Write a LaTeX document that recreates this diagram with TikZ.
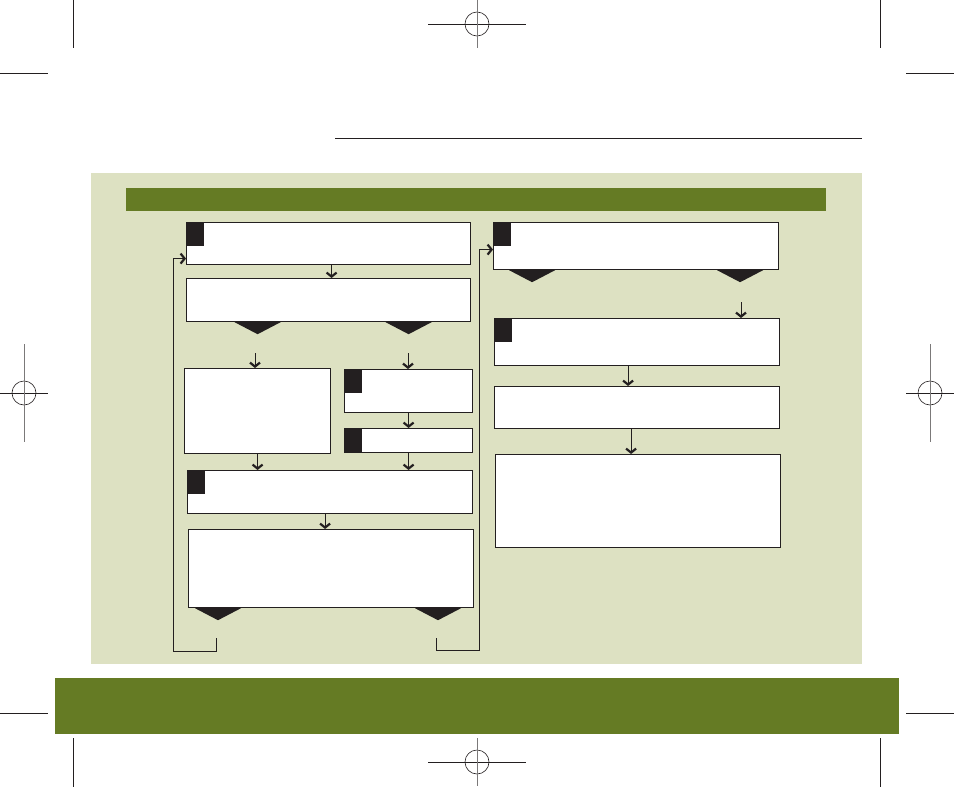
\documentclass[tikz,border=0pt]{standalone}
\usepackage{tikz}
\usetikzlibrary{arrows.meta,positioning,calc}
\definecolor{ink}{RGB}{35,31,32}
\definecolor{paleolive}{RGB}{221,225,194}
\definecolor{darkolive}{RGB}{101,123,36}
\tikzstyle{box} = [rectangle, draw=ink, fill=white, line width=1.2pt, inner sep=0pt, anchor=north west]
\tikzstyle{numbox} = [rectangle, fill=ink, inner sep=0pt, minimum width=18pt, minimum height=24pt, anchor=north west]
\tikzstyle{link} = [draw=ink, line width=1pt]
\tikzstyle{regline} = [draw=ink, line width=0.6pt]
\newcommand{\droptri}[1]{\fill[ink] (#1) ++(-23,0) -- ++(46,0) -- ++(-23,12) -- cycle;}
\newcommand{\regmark}[3]{%
  \draw[regline] (#1) circle (12pt);
  \draw[regline] (#1) ++(-#2,0) -- ++(2*#2,0);
  \draw[regline, draw=ink!60] (#1) ++(0,-#3) -- ++(0,2*#3);}

\begin{document}
\begin{tikzpicture}[x=1pt, y=-1pt, >={Straight Barb[length=4pt,width=10pt,line width=2.2pt]}]
    \useasboundingbox (0,0) rectangle (954,787);
    % page furniture
    \draw[regline, line width=0.8pt] (73,0) -- (73,48) (880,0) -- (880,48)
        (0,73) -- (48,73) (906,73) -- (954,73)
        (73,738) -- (73,787) (880,738) -- (880,787)
        (0,713) -- (48,713) (906,713) -- (954,713);
    \regmark{477,24}{49}{24}
    \regmark{477,762}{49}{24}
    \regmark{24,393}{24}{49}
    \regmark{930,393}{24}{49}
    \draw[ink, line width=1pt] (335,138) -- (862,138);
    \fill[paleolive] (91,173) rectangle (862,664);
    \fill[darkolive] (126,188) rectangle (826,211);
    \fill[darkolive] (55,678) rectangle (899,734);

    % left column
    \node[box, minimum width=284pt, minimum height=42pt] (intro) at (186,222) {};
    \node[box, minimum width=284pt, minimum height=43pt] (test) at (186,278) {};
    \node[box, minimum width=146pt, minimum height=85pt] (optA) at (184,368) {};
    \node[box, minimum width=128pt, minimum height=43pt] (optB) at (344,369) {};
    \node[box, minimum width=128pt, minimum height=24pt] (optC) at (344,428) {};
    \node[box, minimum width=285pt, minimum height=43pt] (merge) at (187,470) {};
    \node[box, minimum width=285pt, minimum height=78pt] (result) at (188,529) {};

    % right column
    \node[box, minimum width=285pt, minimum height=47pt] (next) at (493,222) {};
    \node[box, minimum width=285pt, minimum height=47pt] (stage) at (494,318) {};
    \node[box, minimum width=285pt, minimum height=42pt] (review) at (494,386) {};
    \node[box, minimum width=285pt, minimum height=93pt] (final) at (495,454) {};

    % step markers
    \node[numbox] (nIntro) at (intro.north west) {};
    \node[numbox] (nOptB) at (optB.north west) {};
    \node[numbox] (nOptC) at (optC.north west) {};
    \node[numbox] (nMerge) at (merge.north west) {};
    \node[numbox] (nNext) at (next.north west) {};
    \node[numbox] (nStage) at (stage.north west) {};

    % free ends
    \coordinate (yesL) at (255,353);
    \coordinate (noR) at (408,353);
    \coordinate (loopL) at (216,638);
    \coordinate (loopR) at (436,638);
    \coordinate (goOn) at (741,302);

    % branch markers
    \droptri{optA.north |- test.south}
    \droptri{optB.north |- test.south}
    \droptri{[xshift=2pt]loopL |- result.south}
    \droptri{[xshift=2pt]loopR |- result.south}
    \droptri{[xshift=-104pt]next.south}
    \droptri{[xshift=104pt]next.south}

    \draw[link, ->] ([xshift=3pt]intro.south) -- ([xshift=3pt]test.north);
    \draw[link, ->] (yesL) -- (yesL |- optA.north);
    \draw[link, ->] (noR) -- (noR |- optB.north);
    \draw[link, ->] (optB.south) -- (optC.north);
    \draw[link, ->] (optA.south) -- (optA.south |- merge.north);
    \draw[link, ->] (optC.south) -- (optC.south |- merge.north);
    \draw[link, ->] ([xshift=-5pt]merge.south) -- ([xshift=-5pt]merge.south |- result.north);
    \draw[link, ->] (loopL) |- (173,651) |- ([yshift=-15pt]intro.west);
    \draw[link, ->] (loopR) |- (479,650) |- ([yshift=-3.5pt]next.west);
    \draw[link, ->] (goOn) -- (goOn |- stage.north);
    \draw[link, ->] ([xshift=-9pt]stage.south) -- ([xshift=-9pt]stage.south |- review.north);
    \draw[link, ->] ([xshift=-6pt]review.south) -- ([xshift=-6pt]review.south |- final.north);
\end{tikzpicture}
\end{document}
